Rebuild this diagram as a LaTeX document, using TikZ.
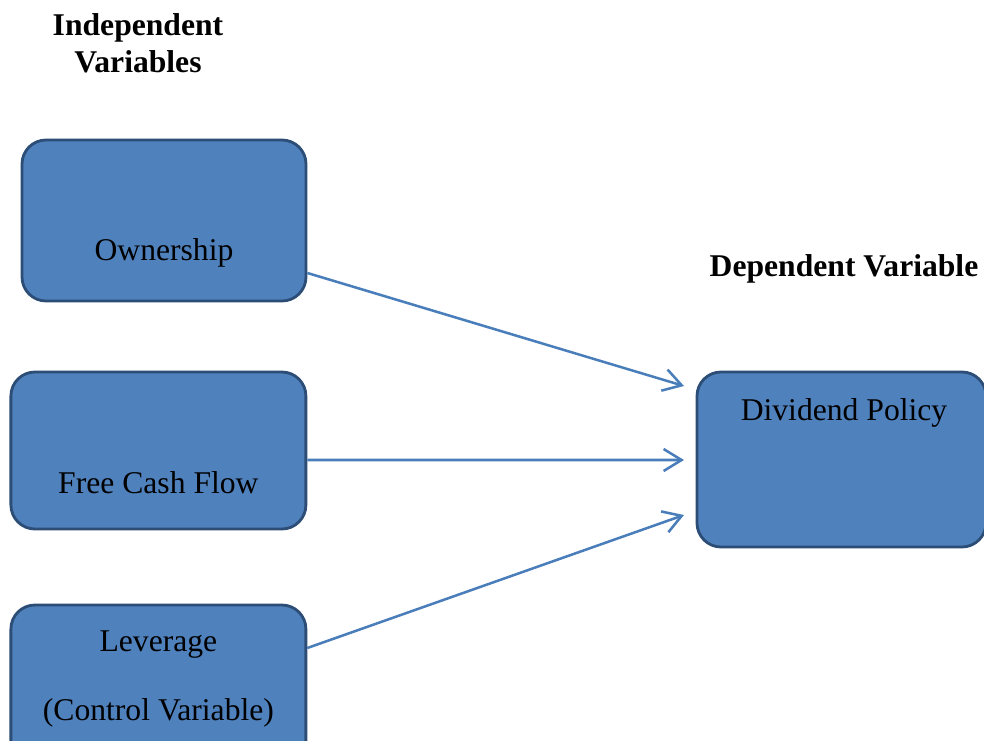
\documentclass[tikz,border=0pt]{standalone}
\usepackage{fontspec}
\setmainfont{Liberation Serif}
\usetikzlibrary{arrows.meta, positioning, calc}

\definecolor{boxblue}{HTML}{4F81BD}
\definecolor{boxedge}{HTML}{2C4D75}
\definecolor{arrblue}{HTML}{4A7EBB}

\begin{document}
\begin{tikzpicture}[
    var/.style     = {rectangle, rounded corners=0.6cm, draw=boxedge, fill=boxblue, line width=2pt, inner sep=0pt},
    txt/.style     = {anchor=base, inner sep=0pt, font=\fontsize{22.5}{26.3}\selectfont},
    heading/.style = {txt, font=\fontsize{22.5}{26.3}\selectfont\bfseries, align=center},
    arr/.style     = {-{Straight Barb[length=4.5mm, width=5.5mm]}, draw=arrblue, line width=1.8pt},
]
\useasboundingbox (0,0) rectangle (24.6,-18.5);

%% ---- Column positions (x-coords) ----
\def\xL{3.96}    % independent variables
\def\xR{21.1}    % dependent variable

%% ---- Headings ----
\node[heading] (indep) at (3.45,-1.8) {Independent\\Variables};
\node[heading] (dep)   at (\xR,-6.9) {Dependent Variable};

%% ---- Boxes ----
\node[var, minimum width=7.1cm,   minimum height=4.025cm] (own) at (4.1,-5.5125) {};
\node[var, minimum width=7.375cm, minimum height=3.925cm] (fcf) at (\xL,-11.2625) {};
\node[var, minimum width=7.375cm, minimum height=4.5cm]   (lev) at (\xL,-17.375) {};
\node[var, minimum width=7.225cm, minimum height=4.375cm] (dp)  at (21.0375,-11.4875) {};

%% ---- Box texts ----
\node[txt] (ownT)  at (4.1,-6.5)    {Ownership};
\node[txt] (fcfT)  at (\xL,-12.325) {Free Cash Flow};
\node[txt] (levT)  at (\xL,-16.275) {Leverage};
\node[txt] (levC)  at (\xL,-18.0)   {(Control Variable)};
\node[txt] (dpT)   at (\xR,-10.5)   {Dividend Policy};

%% ---- Arrow tips ----
\coordinate (t1) at (17.1,-9.65);
\coordinate (t2) at (17.1,-11.5);
\coordinate (t3) at (17.1,-12.875);

\draw[arr] ($(own.east)+(0,-1.3125)$) -- (t1);
\draw[arr] ($(fcf.east)+(0,-0.2375)$) -- (t2);
\draw[arr] ($(lev.east)+(0,1.175)$)   -- (t3);

\end{tikzpicture}
\end{document}
